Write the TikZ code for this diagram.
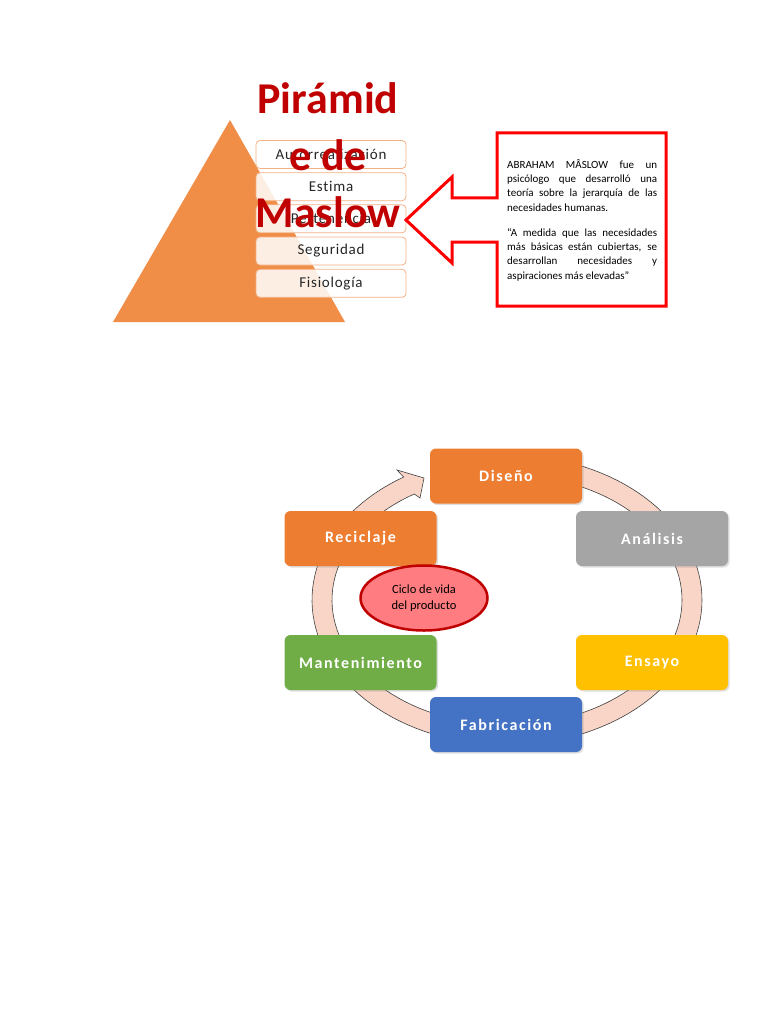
\documentclass[tikz,border=0pt]{standalone}
\usepackage{fontspec}
\setmainfont{Carlito}
\newfontfamily\stagefont[LetterSpace=10,Ligatures=NoCommon]{Carlito}
\newfontfamily\tierfont[LetterSpace=5,Ligatures=NoCommon]{Carlito}
\usetikzlibrary{shapes.geometric,shadows}
\definecolor{pyramid}{HTML}{F08D47}
\definecolor{tierline}{HTML}{F4B183}
\definecolor{tiertext}{HTML}{262626}
\definecolor{titlered}{HTML}{C00000}
\definecolor{calloutred}{HTML}{FF0000}
\definecolor{ringfill}{HTML}{F8D5C6}
\definecolor{ringline}{HTML}{404040}
\definecolor{stageorange}{HTML}{ED7D31}
\definecolor{stagegray}{HTML}{A5A5A5}
\definecolor{stageyellow}{HTML}{FFC000}
\definecolor{stageblue}{HTML}{4472C4}
\definecolor{stagegreen}{HTML}{70AD47}
\definecolor{hubfill}{HTML}{FF7C80}

\begin{document}
\begin{tikzpicture}[x=1pt,y=-1pt,
  tier/.style={draw=tierline,line width=0.8pt,rounded corners=4pt,fill=white,fill opacity=0.85,text opacity=1,text=tiertext,minimum width=150pt,minimum height=28pt,inner sep=0pt,font=\tierfont\fontsize{15}{18}\selectfont},
  stage/.style={rounded corners=6pt,minimum width=152pt,minimum height=55pt,inner sep=0pt,text=white,font=\stagefont\bfseries\fontsize{16}{19}\selectfont,drop shadow={shadow xshift=1.5pt,shadow yshift=-1.5pt,opacity=0.25}},
  callout/.style={draw=calloutred,line width=3pt,fill=white,line join=miter},
  ring/.style={fill=ringfill,draw=ringline,line width=0.6pt}
]
\fill[white] (0,0) rectangle (768,1024);
\useasboundingbox (0,0) rectangle (768,1024);
\fill[pyramid] (230,120) -- (345,322) -- (113,322) -- cycle;
\node[tier] (t5) at (331,154.5) {Autorrealización};
\node[tier] (t4) at (331,186.7) {Estima};
\node[tier] (t3) at (331,218.8) {Pertenencia};
\node[tier] (t2) at (331,251) {Seguridad};
\node[tier] (t1) at (331,283.3) {Fisiología};
\node[align=center,inner sep=0pt,text=titlered,font=\bfseries\fontsize{44}{57}\selectfont] (title) at (328,155) {Pirámid\\e de\\Maslow};
\draw[callout] (497,133) -- (666,133) -- (666,306) -- (497,306) -- (497,242) -- (452,242) -- (452,263)
  -- (406,220) -- (452,177) -- (452,198) -- (497,198) -- cycle;
\node[anchor=north west,inner sep=0pt,text width=150pt,align=justify,font=\fontsize{11}{14.3}\selectfont] (bio) at (507,159)
  {ABRAHAM MÂSLOW fue un\linebreak psicólogo que desarrolló una\linebreak teoría sobre la jerarquía de las\linebreak necesidades humanas.\\[10.7pt]
  “A medida que las necesidades\linebreak más básicas están cubiertas, se\linebreak desarrollan necesidades y\linebreak aspiraciones más elevadas”};
\coordinate (wingin) at (420,498);
\coordinate (headtip) at (424,478);
\coordinate (wingout) at (397,470);
\filldraw[ring] plot[domain=-238:80,samples=120] ({507+195*cos(\x)},{600-145*sin(\x)})
  -- plot[domain=80:-238,samples=120] ({507+175*cos(\x)},{600-125*sin(\x)})
  -- (wingin) -- (headtip) -- (wingout) -- cycle;
\node[stage,fill=stageorange] (diseno) at (506,476) {Diseño};
\node[stage,fill=stagegray] (analisis) at (652,538.5) {Análisis};
\node[stage,fill=stageyellow] (ensayo) at (652,662.5) {Ensayo};
\node[stage,fill=stageblue] (fabricacion) at (506,724.5) {Fabricación};
\node[stage,fill=stagegreen] (mantenimiento) at (360.5,662.5) {Mantenimiento};
\node[stage,fill=stageorange] (reciclaje) at (360.5,538.5) {Reciclaje};
\node[ellipse,draw=titlered,line width=2.5pt,fill=hubfill,minimum width=127pt,minimum height=65pt,inner sep=0pt,align=center,font=\fontsize{12.5}{16}\selectfont] (hub) at (424,598) {Ciclo de vida\\del producto};
\end{tikzpicture}
\end{document}
